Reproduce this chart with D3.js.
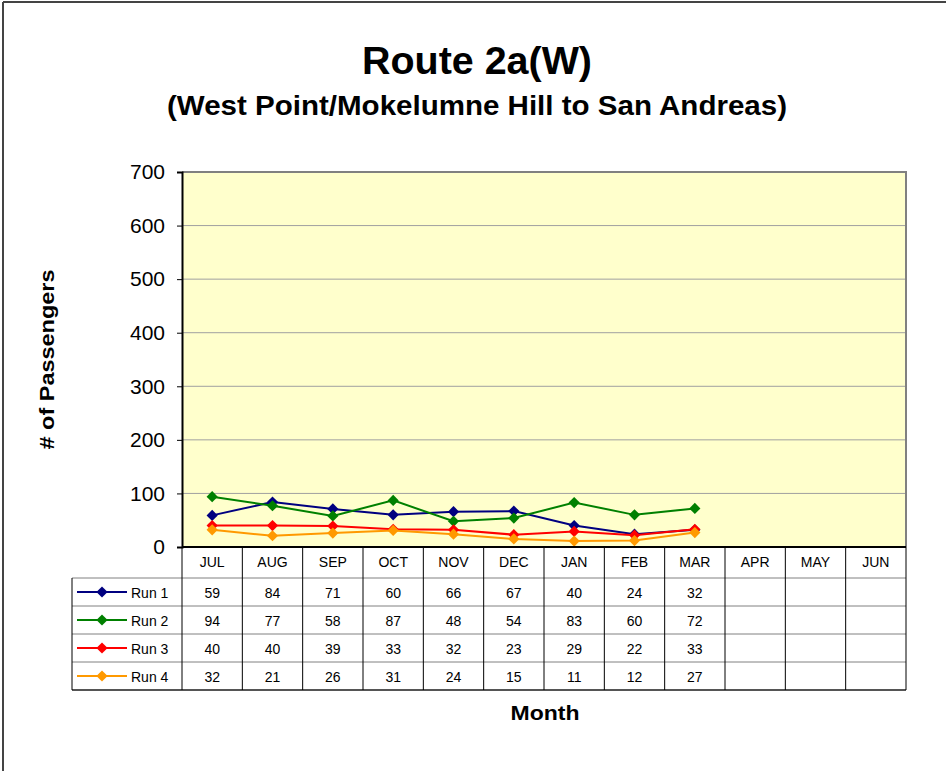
<!DOCTYPE html>
<html>
<head>
<meta charset="utf-8">
<script src="https://cdn.jsdelivr.net/npm/d3@7"></script>
<style>
  body { margin: 0; background: #fff; }
  svg text { font-family: Arial, "Liberation Sans", sans-serif; }
</style>
</head>
<body>
<div id="chart"></div>
<script>
const months = ["JUL", "AUG", "SEP", "OCT", "NOV", "DEC", "JAN", "FEB", "MAR", "APR", "MAY", "JUN"];
const run1 = [59, 84, 71, 60, 66, 67, 40, 24, 32];
const run2 = [94, 77, 58, 87, 48, 54, 83, 60, 72];
const run3 = [40, 40, 39, 33, 32, 23, 29, 22, 33];
const run4 = [32, 21, 26, 31, 24, 15, 11, 12, 27];
const seriesNames = ["Run 1", "Run 2", "Run 3", "Run 4"];
const seriesColors = ["#000080", "#008000", "#FF0000", "#FF9900"];
const yTicks = [0, 100, 200, 300, 400, 500, 600, 700];

const series = [run1, run2, run3, run4].map((vals, i) => ({
    name: seriesNames[i],
    color: seriesColors[i],
    values: vals
}));

const W = 946, H = 771;
const plot = { left: 182, right: 906, top: 172, bottom: 547 };
const tableLeft = 72;
const headerH = 31;
const rowH = 28;

const svg = d3.select("#chart")
    .append("svg")
    .attr("width", W)
    .attr("height", H);

// outer chart border (top + left only visible)
svg.append("line").attr("x1", 3).attr("x2", W).attr("y1", 2).attr("y2", 2)
    .attr("stroke", "#444").attr("stroke-width", 2);
svg.append("line").attr("x1", 3).attr("x2", 3).attr("y1", 2).attr("y2", H)
    .attr("stroke", "#444").attr("stroke-width", 2);

svg.append("text")
    .attr("x", 477).attr("y", 74)
    .attr("text-anchor", "middle")
    .attr("textLength", 230).attr("lengthAdjust", "spacingAndGlyphs")
    .style("font-size", "38px").style("font-weight", "bold")
    .text("Route 2a(W)");

svg.append("text")
    .attr("x", 477).attr("y", 115)
    .attr("text-anchor", "middle")
    .attr("textLength", 620).attr("lengthAdjust", "spacingAndGlyphs")
    .style("font-size", "27px").style("font-weight", "bold")
    .text("(West Point/Mokelumne Hill to San Andreas)");

const x = d3.scaleBand()
    .domain(months)
    .range([plot.left, plot.right]);

const y = d3.scaleLinear()
    .domain([0, 700])
    .range([plot.bottom, plot.top]);

// plot background
svg.append("rect")
    .attr("x", plot.left).attr("y", plot.top)
    .attr("width", plot.right - plot.left)
    .attr("height", plot.bottom - plot.top)
    .attr("fill", "#FFFFCC");

// gridlines
svg.append("g")
    .selectAll("line")
    .data(yTicks.filter(d => d > 0 && d < 700))
    .enter()
    .append("line")
    .attr("x1", plot.left).attr("x2", plot.right)
    .attr("y1", d => y(d)).attr("y2", d => y(d))
    .attr("stroke", "#A0A0A0").attr("stroke-width", 1);

// plot border top/right
svg.append("path")
    .attr("d", `M${plot.left},${plot.top}H${plot.right}V${plot.bottom}`)
    .attr("fill", "none").attr("stroke", "#808080").attr("stroke-width", 2);

// y axis
const yAxis = svg.append("g")
    .attr("transform", `translate(${plot.left},0)`)
    .call(d3.axisLeft(y).tickValues(yTicks).tickSize(5).tickPadding(12).tickFormat(d3.format("d")));
yAxis.select(".domain").attr("stroke", "#000").attr("stroke-width", 2);
yAxis.selectAll(".tick line").attr("stroke", "#000");
yAxis.selectAll(".tick text")
    .style("font-size", "21px")
    .style("font-family", "Arial, 'Liberation Sans', sans-serif")
    .attr("fill", "#000");

svg.append("text")
    .attr("transform", `translate(54,${(plot.top + plot.bottom) / 2}) rotate(-90)`)
    .attr("text-anchor", "middle")
    .attr("textLength", 180).attr("lengthAdjust", "spacingAndGlyphs")
    .style("font-size", "21px").style("font-weight", "bold")
    .text("# of Passengers");

// lines and markers
const line = d3.line()
    .x((d, i) => x(months[i]) + x.bandwidth() / 2)
    .y(d => y(d));

const diamond = d3.symbol().type(d3.symbolDiamond2).size(80);

series.forEach(s => {
    svg.append("path")
        .datum(s.values)
        .attr("d", line)
        .attr("fill", "none")
        .attr("stroke", s.color)
        .attr("stroke-width", 2);

    svg.append("g")
        .selectAll("path")
        .data(s.values)
        .enter()
        .append("path")
        .attr("d", diamond)
        .attr("transform", (d, i) => `translate(${x(months[i]) + x.bandwidth() / 2},${y(d)})`)
        .attr("fill", s.color);
});

// data table
const tableTop = plot.bottom;
const headerBottom = tableTop + headerH;
const tableBottom = headerBottom + rowH * series.length;

const table = svg.append("g");

// header labels
table.selectAll("text.month")
    .data(months)
    .enter()
    .append("text")
    .attr("class", "month")
    .attr("x", d => x(d) + x.bandwidth() / 2)
    .attr("y", tableTop + headerH / 2 + 4)
    .attr("text-anchor", "middle")
    .style("font-size", "14px")
    .text(d => d);

// horizontal lines
d3.range(series.length + 1).forEach(i => {
    const yy = headerBottom + i * rowH;
    table.append("line")
        .attr("x1", tableLeft).attr("x2", plot.right)
        .attr("y1", yy).attr("y2", yy)
        .attr("stroke", i === series.length ? "#555" : "#808080")
        .attr("stroke-width", i === series.length ? 2 : 1);
});

// vertical lines
months.concat(["end"]).forEach((m, i) => {
    const xx = i < months.length ? x(m) : plot.right;
    table.append("line")
        .attr("x1", xx).attr("x2", xx)
        .attr("y1", tableTop).attr("y2", tableBottom)
        .attr("stroke", "#000").attr("stroke-width", 1);
});
table.append("line")
    .attr("x1", tableLeft).attr("x2", tableLeft)
    .attr("y1", headerBottom).attr("y2", tableBottom)
    .attr("stroke", "#000").attr("stroke-width", 1);

// x axis line (on top of table)
svg.append("line")
    .attr("x1", plot.left).attr("x2", plot.right)
    .attr("y1", plot.bottom).attr("y2", plot.bottom)
    .attr("stroke", "#000").attr("stroke-width", 2);

// rows
series.forEach((s, r) => {
    const cy = headerBottom + r * rowH + rowH / 2;
    table.append("line")
        .attr("x1", 77).attr("x2", 127)
        .attr("y1", cy).attr("y2", cy)
        .attr("stroke", s.color).attr("stroke-width", 2);
    table.append("path")
        .attr("d", diamond)
        .attr("transform", `translate(102,${cy})`)
        .attr("fill", s.color);
    table.append("text")
        .attr("x", 131).attr("y", cy + 6)
        .style("font-size", "14px")
        .text(s.name);

    table.selectAll(null)
        .data(s.values)
        .enter()
        .append("text")
        .attr("x", (d, i) => x(months[i]) + x.bandwidth() / 2)
        .attr("y", cy + 6)
        .attr("text-anchor", "middle")
        .style("font-size", "14px")
        .text(d => d);
});

svg.append("text")
    .attr("x", 545).attr("y", 720)
    .attr("text-anchor", "middle")
    .attr("textLength", 69).attr("lengthAdjust", "spacingAndGlyphs")
    .style("font-size", "21px").style("font-weight", "bold")
    .text("Month");
</script>
</body>
</html>
